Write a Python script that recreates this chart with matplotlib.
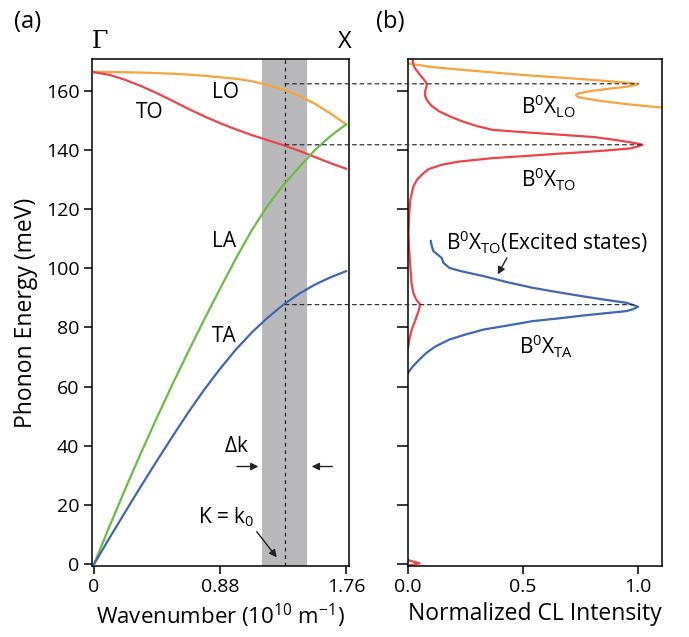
import matplotlib.pyplot as plt
from matplotlib.patches import ConnectionPatch

plt.rcParams['font.family'] = ['Open Sans', 'DejaVu Sans']
plt.rcParams['mathtext.fontset'] = 'custom'
plt.rcParams['mathtext.rm'] = 'Open Sans'
plt.rcParams['lines.solid_joinstyle'] = 'round'

# dispersion curves (a): wavenumber in 1e10 m^-1, energy in meV
k = [0.00, 0.11, 0.22, 0.33, 0.44, 0.55, 0.66, 0.77, 0.88, 0.99, 1.10, 1.21, 1.32, 1.43, 1.54, 1.65, 1.76]
E_LO = [166.3, 166.3, 166.2, 166.1, 165.9, 165.7, 165.4, 165.0, 164.5, 164.0, 163.2, 161.9, 160.3, 158.3, 155.6, 152.3, 148.6]
E_TO = [166.2, 165.3, 163.6, 161.5, 159.1, 156.5, 153.8, 151.3, 149.0, 146.9, 145.0, 143.3, 141.6, 139.7, 137.6, 135.5, 133.6]
E_LA = [0.0, 13.0, 25.6, 37.8, 49.6, 61.0, 72.0, 82.7, 93.1, 103.2, 112.7, 121.0, 128.0, 134.0, 139.8, 144.6, 148.6]
E_TA = [0.0, 9.0, 17.8, 26.5, 35.0, 43.3, 51.4, 59.0, 66.0, 72.5, 78.2, 83.2, 87.6, 91.3, 94.4, 96.9, 99.0]

k0 = 1.334
dk_lo, dk_hi = 1.173, 1.488

# CL spectra (b): energy (meV) and normalized intensity
lo_E = [169.2, 168.0, 166.9, 166.0, 165.1, 164.3, 163.5, 162.8, 162.3, 161.9, 161.3, 160.6, 159.8, 159.0,
        158.4, 157.8, 157.2, 156.4, 155.6, 154.8, 154.0]
lo_I = [0.00, 0.10, 0.25, 0.39, 0.53, 0.68, 0.82, 0.93, 1.00, 0.99, 0.95, 0.87, 0.79, 0.74,
        0.73, 0.74, 0.78, 0.85, 0.93, 1.03, 1.14]

to_E = [170.7, 169.0, 167.6, 166.0, 164.2, 162.8, 161.9, 160.8, 159.7, 158.3, 156.9, 155.0, 153.0, 151.0,
        149.5, 148.0, 146.7, 145.8, 145.1, 144.3, 143.0, 142.2, 141.7, 141.2, 140.5, 140.0, 139.3, 138.7,
        137.9, 137.2, 136.0, 135.0, 133.5, 132.1, 130.0, 127.6, 123.1, 118.0, 111.9, 106.0, 100.6, 95.0,
        91.6, 89.5, 87.8, 86.0, 83.8, 81.5, 79.3, 76.0, 73.1]
to_I = [0.020, 0.022, 0.030, 0.045, 0.064, 0.078, 0.082, 0.078, 0.074, 0.074, 0.081, 0.100, 0.135, 0.190,
        0.240, 0.300, 0.370, 0.530, 0.660, 0.810, 0.930, 0.990, 1.020, 1.000, 0.970, 0.900, 0.780, 0.660,
        0.510, 0.370, 0.220, 0.150, 0.090, 0.067, 0.040, 0.023, 0.010, 0.005, 0.002, 0.005, 0.010, 0.015,
        0.023, 0.035, 0.052, 0.048, 0.038, 0.027, 0.016, 0.006, 0.000]
to0_E = [1.4, 0.3, -0.5]
to0_I = [0.0, 0.05, 0.0]

ta_E = [109.2, 107.5, 105.8, 104.5, 103.5, 101.8, 100.1, 99.0, 97.3, 95.3, 93.4, 91.9, 90.5, 89.3, 88.3,
        87.0, 86.2, 85.5, 84.8, 84.0, 83.0, 82.1, 80.6, 79.3, 77.6, 75.9, 73.6, 71.4, 68.8, 66.3, 64.6]
ta_I = [0.099, 0.103, 0.110, 0.130, 0.146, 0.154, 0.180, 0.230, 0.330, 0.430, 0.540, 0.650, 0.760, 0.860, 0.950,
        1.000, 0.980, 0.950, 0.860, 0.760, 0.650, 0.540, 0.430, 0.330, 0.250, 0.180, 0.120, 0.080, 0.045, 0.015, 0.000]

peaks = [(162.3, 1.0), (141.7, 1.02), (87.7, 0.98)]

c_lo = '#f6a43c'
c_to = '#ec4449'
c_la = '#6cbd45'
c_ta = '#3f68b3'

fig = plt.figure(figsize=(6.89, 6.37), dpi=100)
ax_a = fig.add_axes([0.1335, 0.1115, 0.373, 0.796])
ax_b = fig.add_axes([0.5922, 0.1115, 0.3686, 0.796])

lw = 1.6
ax_a.axvspan(dk_lo, dk_hi, color='#b9b9bb', lw=0, zorder=0)
ax_a.axvline(k0, color='#222222', lw=0.9, ls=(0, (3, 3)), zorder=1)
ax_a.plot(k, E_LO, color=c_lo, lw=lw, zorder=3)
ax_a.plot(k, E_TO, color=c_to, lw=lw, zorder=3)
ax_a.plot(k, E_LA, color=c_la, lw=lw, zorder=3)
ax_a.plot(k, E_TA, color=c_ta, lw=lw, zorder=3)

ax_a.set_xlim(-0.014, 1.78)
ax_a.set_ylim(-0.6, 170.7)
ax_a.set_xticks([0, 0.88, 1.76])
ax_a.set_xticklabels(['0', '0.88', '1.76'])
ax_a.set_yticks(range(0, 161, 20))
ax_a.tick_params(direction='out', length=6, width=1.1, labelsize=14, pad=3)
ax_a.set_xlabel(r'Wavenumber (10$^\mathregular{10}$ m$^\mathregular{-1}$)', fontsize=16, labelpad=4)
ax_a.set_ylabel('Phonon Energy (meV)', fontsize=16.5, labelpad=6)

fs = 15
ax_a.text(0.915, 159.5, 'LO', fontsize=fs, ha='center', va='center')
ax_a.text(0.391, 152.6, 'TO', fontsize=fs, ha='center', va='center')
ax_a.text(0.908, 109.0, 'LA', fontsize=fs, ha='center', va='center')
ax_a.text(0.908, 76.8, 'TA', fontsize=fs, ha='center', va='center')
ax_a.text(0.992, 39.6, r'$\Delta$k', fontsize=fs, ha='center', va='center')
ax_a.text(0.922, 15.9, r'K = k$_\mathregular{0}$', fontsize=fs, ha='center', va='center')
arr = dict(arrowstyle='-|>', color='#222222', lw=1.0, mutation_scale=11, shrinkA=0, shrinkB=0)
ax_a.annotate('', xy=(1.148, 33.0), xytext=(0.997, 33.0), arrowprops=arr)
ax_a.annotate('', xy=(1.52, 33.0), xytext=(1.664, 33.0), arrowprops=arr)
ax_a.annotate('', xy=(1.276, 2.3), xytext=(1.136, 11.0), arrowprops=arr)

ax_b.plot(lo_I, lo_E, color=c_lo, lw=lw)
ax_b.plot(to_I, to_E, color=c_to, lw=lw)
ax_b.plot(to0_I, to0_E, color=c_to, lw=lw)
ax_b.plot(ta_I, ta_E, color=c_ta, lw=lw)
ax_b.set_xlim(0, 1.104)
ax_b.set_ylim(-0.6, 170.7)
ax_b.set_xticks([0, 0.5, 1.0])
ax_b.set_xticklabels(['0.0', '0.5', '1.0'])
ax_b.set_yticks(range(0, 161, 20))
ax_b.tick_params(axis='y', labelleft=False, length=8)
ax_b.tick_params(direction='out', width=1.1, labelsize=14, pad=3)
ax_b.tick_params(axis='x', length=6)
ax_b.set_xlabel('Normalized CL Intensity', fontsize=16.5, labelpad=4)

ax_b.text(0.61, 154.5, r'B$^\mathregular{0}$X$_\mathregular{LO}$', fontsize=fs, ha='center', va='center')
ax_b.text(0.61, 129.9, r'B$^\mathregular{0}$X$_\mathregular{TO}$', fontsize=fs, ha='center', va='center')
ax_b.text(0.165, 108.6, r'B$^\mathregular{0}$X$_\mathregular{TO}$(Excited states)', fontsize=fs, ha='left', va='center')
ax_b.text(0.60, 73.6, r'B$^\mathregular{0}$X$_\mathregular{TA}$', fontsize=fs, ha='center', va='center')
ax_b.annotate('', xy=(0.39, 97.9), xytext=(0.43, 103.5), arrowprops=arr)

for ax in (ax_a, ax_b):
    for s in ax.spines.values():
        s.set_linewidth(1.1)

# dashed guides from k0 to the spectral peaks
for e, i in peaks:
    con = ConnectionPatch(xyA=(k0, e), coordsA=ax_a.transData, xyB=(i, e), coordsB=ax_b.transData,
                          color='#333333', lw=0.9, ls=(0, (3, 3)), zorder=5)
    fig.add_artist(con)

fig.text(28 / 689, 1 - 22 / 637, '(a)', fontsize=17, ha='center', va='center')
fig.text(390 / 689, 1 - 22 / 637, '(b)', fontsize=17, ha='center', va='center')
fig.text(100 / 689, 1 - 42 / 637, 'Γ', fontsize=17, ha='center', va='center', family='DejaVu Serif')
fig.text(345 / 689, 1 - 42 / 637, 'X', fontsize=17, ha='center', va='center')

fig.savefig('out.png', dpi=100)
